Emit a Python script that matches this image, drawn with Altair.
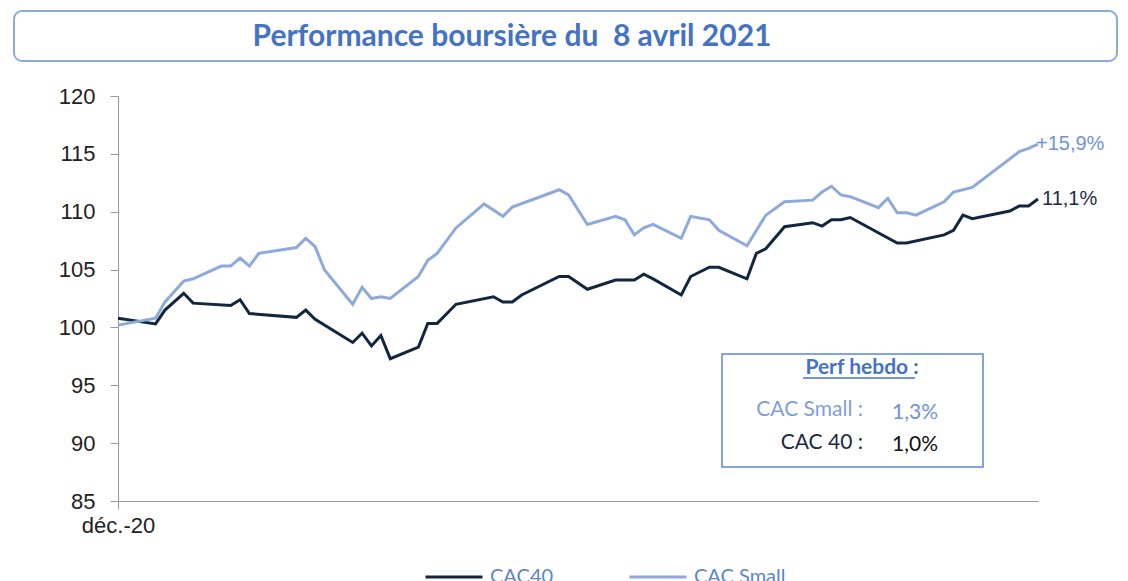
import altair as alt
import pandas as pd

# ---- data (calendar days since end of Dec 2020, index level) ----
cac40_days = [0, 4, 5, 7, 8, 12, 13, 14, 19, 20, 21, 25, 26, 27, 28, 29, 32, 33, 34, 36,
              40, 41, 42, 43, 47, 48, 50, 53, 55, 56, 57, 60, 61, 63, 64, 67, 68, 69, 71,
              74, 75, 76, 77, 78, 83, 84, 88, 89, 90, 91, 95, 96, 97, 98]
cac40_vals = [100.8, 100.3, 101.5, 102.95, 102.1, 101.9, 102.4, 101.2, 100.87, 101.5, 100.7,
              98.7, 99.5, 98.4, 99.3, 97.3, 98.3, 100.35, 100.35, 102.0,
              102.65, 102.2, 102.2, 102.8, 104.4, 104.4, 103.3, 104.1, 104.1, 104.6, 104.2,
              102.8, 104.4, 105.2, 105.2, 104.2, 106.4, 106.8, 108.7,
              109.05, 108.76, 109.3, 109.3, 109.5, 107.3, 107.3, 108.0, 108.4, 109.7, 109.4,
              110.06, 110.5, 110.5, 111.1]

small_days = [0, 4, 5, 7, 8, 11, 12, 13, 14, 15, 19, 20, 21, 22, 25, 26, 27, 28, 29, 32, 33,
              34, 36, 39, 41, 42, 47, 48, 50, 53, 54, 55, 56, 57, 60, 61, 63, 64, 67, 69, 71,
              74, 75, 76, 77, 78, 81, 82, 83, 84, 85, 88, 89, 91, 96, 97, 98]
small_vals = [100.2, 100.8, 102.2, 104.0, 104.2, 105.3, 105.3, 106.0, 105.3, 106.4, 106.9,
              107.7, 106.98, 104.96, 102.0, 103.46, 102.5, 102.65, 102.5, 104.4, 105.8,
              106.4, 108.6, 110.67, 109.6, 110.4, 111.9, 111.45, 108.9, 109.6, 109.3, 108.0,
              108.6, 108.9, 107.7, 109.6, 109.3, 108.4, 107.06, 109.7, 110.86,
              111.0, 111.7, 112.2, 111.45, 111.3, 110.35, 111.16, 109.9, 109.9, 109.7,
              110.86, 111.7, 112.1, 115.19, 115.48, 115.85]

series_names = ["CAC40", "CAC Small"]
series_colors = ["#13263f", "#8eaadc"]

end_labels = ["11,1%", "+15,9%"]
end_label_colors = ["#1c2c44", "#6f93d6"]
end_label_dx = [4, -2]

title_text = "Performance boursière du\u00a0 8 avril 2021"
box_title = "Perf hebdo :"
box_names = ["CAC Small :", "CAC 40 :"]
box_values = ["1,3%", "1,0%"]
box_colors = ["#7f9fd9", "#1a2a40"]
box_value_colors = ["#6f93d6", "#111111"]

# ---- build tables ----
df = pd.concat([
    pd.DataFrame({"day": cac40_days, "value": cac40_vals, "series": series_names[0]}),
    pd.DataFrame({"day": small_days, "value": small_vals, "series": series_names[1]}),
], ignore_index=True)

ends = pd.DataFrame({
    "day": [cac40_days[-1], small_days[-1]],
    "value": [cac40_vals[-1], small_vals[-1]],
    "label": end_labels,
})

W, H = 920, 405

xscale = alt.Scale(domain=[0, 98], nice=False, zero=False)
yscale = alt.Scale(domain=[85, 120], nice=False, zero=False)

lines = alt.Chart(df).mark_line(strokeWidth=3).encode(
    x=alt.X("day:Q", scale=xscale,
            axis=alt.Axis(values=[0], labelExpr="'déc.-20'", title=None, grid=False,
                          tickSize=8, tickColor="#9a9a9a", domainColor="#9a9a9a",
                          labelFlush=False, labelAlign="center",
                          labelFont="Liberation Sans", labelFontSize=22, labelColor="#222222",
                          labelPadding=6)),
    y=alt.Y("value:Q", scale=yscale,
            axis=alt.Axis(values=[85, 90, 95, 100, 105, 110, 115, 120], title=None, grid=False,
                          tickSize=8, tickColor="#9a9a9a", domainColor="#9a9a9a",
                          labelFont="Liberation Sans", labelFontSize=22, labelColor="#222222",
                          labelPadding=15)),
    color=alt.Color("series:N",
                    scale=alt.Scale(domain=series_names, range=series_colors),
                    legend=alt.Legend(orient="none", direction="horizontal", title=None,
                                      legendX=306, legendY=451,
                                      symbolType="stroke", symbolSize=3249,
                                      symbolStrokeWidth=3, labelOffset=6,
                                      labelFont="Lato", labelFontSize=20,
                                      labelColor="#5b84cf", columnPadding=69)),
    order="day:Q",
)

end_text_parts = []
for i in range(len(end_labels)):
    end_text_parts.append(
        alt.Chart(ends.iloc[[i]]).mark_text(
            align="left", baseline="middle", font="Liberation Sans", fontSize=20,
            color=end_label_colors[i], dx=end_label_dx[i]
        ).encode(x=alt.X("day:Q", scale=xscale), y=alt.Y("value:Q", scale=yscale),
                 text="label:N")
    )

one = pd.DataFrame({"a": [0]})

title_box = alt.Chart(one).mark_rect(
    fill="white", stroke="#8eaadc", strokeWidth=2, cornerRadius=8
).encode(x=alt.value(-104), x2=alt.value(999), y=alt.value(-85), y2=alt.value(-35))

title_mark = alt.Chart(one).mark_text(
    text=title_text, font="Lato", fontWeight="bold", fontSize=30, color="#4472c4",
    align="center", baseline="middle"
).encode(x=alt.value(394), y=alt.value(-59))

perf_box = alt.Chart(one).mark_rect(
    fill="white", stroke="#5b87d6", strokeWidth=1.5
).encode(x=alt.value(604), x2=alt.value(865), y=alt.value(258), y2=alt.value(371))

perf_title = alt.Chart(one).mark_text(
    text=box_title, font="Lato", fontWeight="bold", fontSize=21, color="#4472c4",
    align="center", baseline="middle"
).encode(x=alt.value(744), y=alt.value(272))

perf_underline = alt.Chart(one).mark_rule(color="#4472c4", strokeWidth=1.5).encode(
    x=alt.value(685), x2=alt.value(797), y=alt.value(282))

box_parts = []
for i in range(2):
    box_parts.append(alt.Chart(one).mark_text(
        text=box_names[i], font="Lato", fontSize=21, color=box_colors[i],
        align="right", baseline="middle"
    ).encode(x=alt.value(745), y=alt.value(314 + 33 * i)))
    box_parts.append(alt.Chart(one).mark_text(
        text=box_values[i], font="Lato", fontSize=21, color=box_value_colors[i],
        align="left", baseline="middle"
    ).encode(x=alt.value(774), y=alt.value(317 + 32 * i)))

chart = alt.layer(
    title_box, title_mark, perf_box, perf_title, perf_underline, *box_parts,
    lines, *end_text_parts
).properties(
    width=W, height=H,
    autosize=alt.AutoSizeParams(type="none"),
    padding={"left": 118, "top": 96, "right": 90, "bottom": 80},
    background="white",
).configure_view(stroke=None)

chart.save("out.html", embed_options={"renderer": "svg", "actions": False})
